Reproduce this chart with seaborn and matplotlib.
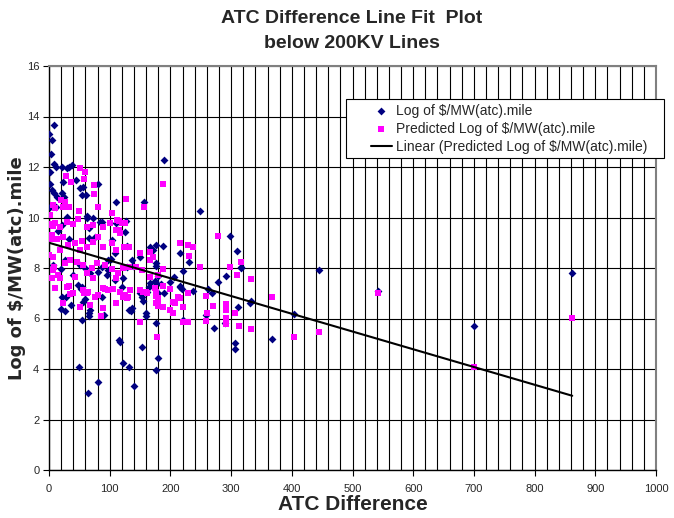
import matplotlib
matplotlib.use('Agg')
import matplotlib.pyplot as plt
from matplotlib import font_manager
from matplotlib.patches import Rectangle
from matplotlib.ticker import MultipleLocator
import pandas as pd
import seaborn as sns

# values
blue_x = [8, 0.5, 5, 3, 9, 1.6, 11.5, 21, 29, 33, 38, 44, 22.5, 1.6, 4.4, 51, 56, 81, 9, 14,
          22, 25, 54, 61, 110, 157, 189, 248, 299, 309, 317, 231, 215, 166, 177, 187, 62, 73, 2, 11,
          30, 63, 84, 15, 21, 33, 66, 76, 172, 26, 19, 6, 40, 51, 59, 68, 81, 87, 98, 48,
          54, 52, 22, 28, 36, 20, 56, 59, 68, 87, 95, 98, 109, 120, 122, 128, 139, 136, 150, 153,
          155, 161, 164, 166, 177, 179, 132, 136, 160, 129, 114, 103, 66, 87, 127, 111, 125, 150, 102, 109,
          50, 65, 80, 54, 66, 66, 91, 116, 117, 122, 132, 140, 154, 159, 177, 180, 176, 135, 26,
          176, 177, 199, 206, 216, 238, 220, 262, 268, 272, 279, 290, 292, 307, 307, 312, 316, 332, 331, 259,
          220, 215, 219, 190, 175, 180, 185, 367, 403, 445, 542, 700, 862]
blue_y = [13.66, 13.3, 13.07, 12.5, 12.1, 11.8, 12.0, 12.0, 11.95, 12.0, 12.07, 11.5, 11.42, 11.33, 11.09, 11.15, 11.2, 11.33, 10.97, 10.8,
          10.97, 10.8, 10.9, 10.9, 10.63, 10.63, 12.28, 10.27, 9.27, 8.67, 8.0, 8.25, 8.61, 8.85, 8.92, 8.87, 10.0, 10.0, 10.4, 10.4,
          10.03, 10.06, 9.83, 9.48, 9.7, 9.13, 9.17, 9.24, 8.71, 8.32, 7.95, 8.12, 7.72, 8.12, 7.99, 7.79, 7.85, 8.05, 8.32, 7.33,
          7.23, 7.16, 6.84, 6.84, 6.53, 6.36, 6.67, 6.76, 6.34, 6.84, 7.72, 7.92, 7.52, 7.26, 7.59, 8.03, 8.08, 8.32, 7.0, 6.84,
          6.7, 7.06, 7.23, 7.39, 7.4, 7.0, 6.34, 6.4, 6.1, 8.87, 9.5, 9.1, 9.57, 9.83, 9.86, 9.8, 9.44, 8.45, 8.34, 8.58,
          4.07, 3.04, 3.5, 5.94, 6.2, 6.1, 6.15, 5.15, 5.06, 4.25, 4.07, 3.33, 4.88, 6.2, 5.83, 4.42, 3.96, 6.3, 6.3,
          8.2, 8.08, 7.46, 7.65, 7.29, 7.09, 5.94, 7.16, 7.0, 5.64, 7.46, 5.83, 7.68, 5.02, 4.78, 6.44, 8.03, 6.7, 6.6, 6.14,
          7.88, 7.26, 7.15, 7.0, 7.5, 7.7, 7.35, 5.19, 6.18, 7.91, 7.1, 5.7, 7.79]

pink_x = [51, 59, 28, 37, 57, 74, 74, 188, 127, 156, 80, 7, 10, 19, 23, 33, 26, 50, 103, 1.6,
          1.6, 7, 100, 115, 120, 110, 116, 279, 215, 229, 237, 230, 248, 298, 316, 309, 332, 187, 167, 4.4,
          0.5, 7, 7, 4.4, 1.6, 9.9, 18, 29, 40, 48, 62, 72, 89.5, 125, 112, 117,
          4.4, 12.7, 23.6, 31.8, 42.8, 53.9, 62.1, 73, 81.2, 89.5, 103, 111, 123, 131, 51, 18, 150, 166, 172,
          8.2, 15.3, 26, 34.6, 45.6, 55.5, 62.1, 70.4, 78.6, 92.3, 103, 114, 122, 131, 143, 154, 166, 180, 18, 43, 73, 111,
          9.9, 29, 40, 55.5, 64, 75.8, 89.5, 98, 106, 117, 125, 133, 150, 161, 174, 67.5, 23.6, 51, 89.5, 111, 128,
          33, 34, 58, 62, 86, 80, 92, 122, 130, 150, 178, 155, 160, 177, 179, 180, 199, 205, 208, 213,
          220, 220, 229, 229, 259, 260, 259, 271, 291, 291, 291, 291, 307, 313, 332,
          200, 188, 177, 180, 177, 188, 205, 215, 221, 367, 403, 445, 542, 700, 862]
pink_y = [11.97, 11.82, 11.64, 11.42, 11.51, 11.29, 10.93, 11.33, 10.72, 10.43, 10.43, 10.5, 10.36, 10.69, 10.43, 10.43, 10.63, 10.25, 10.16, 10.1,
          9.74, 9.66, 9.8, 9.85, 9.78, 9.5, 9.52, 9.27, 8.98, 8.92, 8.82, 8.48, 8.03, 8.05, 8.24, 7.71, 7.55, 7.95, 8.3, 9.14,
          8.51, 8.45, 7.92, 7.59, 9.7, 9.77, 9.64, 9.84, 9.74, 9.93, 9.64, 9.7, 9.64, 9.77, 9.9, 9.37,
          9.31, 9.13, 9.24, 8.91, 8.98, 9.08, 8.84, 9.04, 9.22, 8.84, 8.98, 8.71, 8.84, 8.82, 8.71, 8.71, 8.58, 8.65, 8.45,
          8.05, 7.72, 8.19, 8.32, 8.25, 8.12, 7.79, 7.99, 8.19, 8.12, 7.95, 7.79, 7.99, 8.05, 8.03, 7.92, 7.66, 7.72, 7.59, 7.66, 7.59, 7.59,
          7.2, 7.26, 7.0, 7.13, 7.06, 6.86, 7.2, 7.13, 7.15, 7.06, 6.93, 7.13, 7.13, 7.0, 7.2, 6.53, 6.6, 6.47, 6.4, 6.6, 6.8,
          7.29, 6.98, 7.0, 7.0, 6.11, 6.95, 7.16, 6.87, 6.87, 5.87, 5.28, 7.03, 7.03, 6.9, 6.7, 6.5, 6.34, 6.2, 6.6, 6.86,
          6.47, 5.87, 5.87, 7.0, 6.89, 6.23, 5.91, 6.5, 6.58, 6.34, 6.02, 5.78, 6.2, 5.7, 5.6,
          7.15, 7.29, 7.06, 6.82, 6.6, 6.47, 6.67, 6.8, 6.44, 6.86, 5.28, 5.45, 7.0, 4.09, 6.03]

# trendline end points as drawn in the reference
trend_x = [0, 862]
trend_y = [9.0, 2.94]

x_ticks = list(range(0, 1001, 100))
y_ticks = list(range(0, 17, 2))

title = 'ATC Difference Line Fit  Plot\nbelow 200KV Lines'
x_label = 'ATC Difference'
y_label = 'Log of $/MW(atc).mile'
blue_label = 'Log of $/MW(atc).mile'
pink_label = 'Predicted Log of $/MW(atc).mile'
trend_label = 'Linear (Predicted Log of $/MW(atc).mile)'


def pick_font(names):
    have = {f.name for f in font_manager.fontManager.ttflist}
    for n in names:
        if n in have:
            return n
    return 'DejaVu Sans'


sns.set_theme(style='white')
narrow = pick_font(['Liberation Sans Narrow', 'Liberation Sans', 'Arial'])
plt.rcParams['font.family'] = [narrow, 'DejaVu Sans']

blue_df = pd.DataFrame({'x': blue_x, 'y': blue_y})
pink_df = pd.DataFrame({'x': pink_x, 'y': pink_y})
trend_df = pd.DataFrame({'x': trend_x, 'y': trend_y})

W, H = 674, 518
fig = plt.figure(figsize=(W / 100, H / 100), dpi=100)
ax = fig.add_axes([49 / W, 48 / H, 607 / W, 404 / H])

sns.scatterplot(data=blue_df, x='x', y='y', ax=ax, marker='D', s=16, color='#000080',
                linewidth=0, label=blue_label, zorder=3)
sns.scatterplot(data=pink_df, x='x', y='y', ax=ax, marker='s', s=24, color='#FF00FF',
                linewidth=0, label=pink_label, zorder=4)
sns.lineplot(data=trend_df, x='x', y='y', ax=ax, color='black', linewidth=1.5,
             label=trend_label, zorder=5)

ax.set_xlim(0, 1000)
ax.set_ylim(0, 16)
ax.set_xticks(x_ticks)
ax.set_yticks(y_ticks)
ax.xaxis.set_minor_locator(MultipleLocator(20))
ax.grid(True, which='both', axis='x', color='black', linewidth=0.8)
ax.grid(True, which='major', axis='y', color='black', linewidth=0.8)
ax.set_axisbelow(True)

ax.tick_params(axis='both', which='major', labelsize=8, length=4, width=0.8,
               direction='out', color='black')
ax.tick_params(axis='x', which='major', pad=6)
ax.tick_params(axis='y', which='major', pad=3)
ax.tick_params(axis='x', which='minor', length=0)
ax.tick_params(left=True, bottom=True)
for side in ['left', 'bottom']:
    ax.spines[side].set_color('black')
    ax.spines[side].set_linewidth(1)
for side in ['top', 'right']:
    ax.spines[side].set_color('#808080')
    ax.spines[side].set_linewidth(1.5)

ax.set_xlabel(x_label, fontsize=15, fontweight='bold')
ax.xaxis.set_label_coords(0.5, -(505 - 470) / 404)
ax.xaxis.label.set_va('center')
ax.set_ylabel(y_label, fontsize=13, fontweight='bold', family=['DejaVu Sans'])
ax.yaxis.set_label_coords(-(49 - 17) / 607, 0.5)
ax.yaxis.label.set_va('center')
fig.text(352 / W, 1 - 31 / H, title, ha='center', va='center',
         fontsize=14, fontweight='bold', linespacing=1.65)

# legend: frame drawn as its own box, Excel style wide side padding
box = Rectangle((346 / W, 1 - 158 / H), (664 - 346) / W, (158 - 99) / H,
                transform=fig.transFigure, facecolor='white', edgecolor='black',
                linewidth=0.8, zorder=9, clip_on=False)
ax.add_patch(box)
leg = ax.legend(loc='upper left', bbox_to_anchor=((366 - 49) / 607, (470 - 99) / 404),
                fontsize=10, frameon=False, borderpad=0.35, labelspacing=0.3,
                handlelength=1.5, handletextpad=0.3, borderaxespad=0)
leg.set_zorder(10)

fig.savefig('out.png', dpi=100)
